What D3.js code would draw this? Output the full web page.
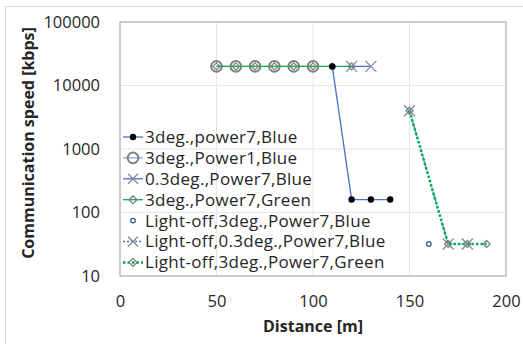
<!DOCTYPE html>
<html lang="en">
<head>
    <meta charset="UTF-8">
    <script src="https://d3js.org/d3.v7.min.js"></script>
    <style>
        body { margin: 0; background: white; }
        text { font-family: "Open Sans", "Noto Sans", sans-serif; fill: #262626; }
    </style>
</head>
<body>
    <svg id="chart" width="523" height="344"></svg>

    <script>
        // Data
        const xTicks = [0, 50, 100, 150, 200];
        const yTicks = [10, 100, 1000, 10000, 100000];

        const seriesNames = [
            "3deg.,power7,Blue",
            "3deg.,Power1,Blue",
            "0.3deg.,Power7,Blue",
            "3deg.,Power7,Green",
            "Light-off,3deg.,Power7,Blue",
            "Light-off,0.3deg.,Power7,Blue",
            "Light-off,3deg.,Power7,Green"
        ];

        const dist1 = [110, 120, 130, 140];
        const speed1 = [20000, 160, 160, 160];

        const dist2 = [50, 60, 70, 80, 90, 100];
        const speed2 = [20000, 20000, 20000, 20000, 20000, 20000];

        const dist3 = [120, 130];
        const speed3 = [20000, 20000];

        const dist4 = [50, 60, 70, 80, 90, 100, 110, 120];
        const speed4 = [20000, 20000, 20000, 20000, 20000, 20000, 20000, 20000];

        const dist5 = [160];
        const speed5 = [32];

        const dist6 = [150, 170, 180];
        const speed6 = [4000, 32, 32];

        const dist7 = [150, 170, 180, 190];
        const speed7 = [4000, 32, 32, 32];

        const svg = d3.select("#chart");
        const width = 523, height = 344;
        const margin = { top: 22, right: 17, bottom: 68, left: 120 };

        // outer chart frame
        svg.append("rect")
            .attr("x", 5.5).attr("y", 6.5)
            .attr("width", width - 5).attr("height", height - 5)
            .attr("fill", "white")
            .attr("stroke", "#d9d9d9");

        const x = d3.scaleLinear()
            .domain([0, 200])
            .range([margin.left, width - margin.right]);

        const y = d3.scaleLog()
            .domain([10, 100000])
            .range([height - margin.bottom, margin.top]);

        // gridlines
        svg.append("g")
            .selectAll("line")
            .data(xTicks)
            .enter().append("line")
            .attr("x1", d => x(d)).attr("x2", d => x(d))
            .attr("y1", margin.top).attr("y2", height - margin.bottom)
            .attr("stroke", "#e6e6e6");
        svg.append("g")
            .selectAll("line")
            .data(yTicks)
            .enter().append("line")
            .attr("x1", margin.left).attr("x2", width - margin.right)
            .attr("y1", d => y(d)).attr("y2", d => y(d))
            .attr("stroke", "#e6e6e6");

        // plot border
        svg.append("rect")
            .attr("x", margin.left).attr("y", margin.top)
            .attr("width", width - margin.left - margin.right)
            .attr("height", height - margin.top - margin.bottom)
            .attr("fill", "none")
            .attr("stroke", "#a6a6a6");

        // axes (labels only)
        const xAxis = svg.append("g")
            .attr("transform", `translate(0,${height - margin.bottom + 13})`)
            .call(d3.axisBottom(x).tickValues(xTicks).tickSize(0).tickFormat(d3.format("d")));
        xAxis.select(".domain").remove();
        xAxis.selectAll("text").style("font-size", "16.5px").attr("fill", "#262626").attr("dy", "0.9em");

        const yAxis = svg.append("g")
            .attr("transform", `translate(${margin.left - 17},0)`)
            .call(d3.axisLeft(y).tickValues(yTicks).tickSize(0).tickFormat(d3.format("d")));
        yAxis.select(".domain").remove();
        yAxis.selectAll("text").style("font-size", "16.5px").attr("fill", "#262626");

        // axis titles
        svg.append("text")
            .attr("x", x(100))
            .attr("y", 332)
            .attr("text-anchor", "middle")
            .style("font-size", "16px")
            .style("font-weight", "bold")
            .text("Distance [m]");

        svg.append("text")
            .attr("transform", `translate(34,${143}) rotate(-90)`)
            .attr("text-anchor", "middle")
            .style("font-size", "16px")
            .style("font-weight", "bold")
            .text("Communication speed [kbps]");

        // series styles (drawing order chosen so the black dots sit on top)
        const series = [
            { name: seriesNames[0], d: dist1, v: speed1, line: "#4472c4", width: 1.3, dash: null, marker: "dot", mColor: "#000" },
            { name: seriesNames[1], d: dist2, v: speed2, line: "#8faadc", width: 1.3, dash: null, marker: "circle", mColor: "#7f7f7f" },
            { name: seriesNames[2], d: dist3, v: speed3, line: "#4472c4", width: 1.3, dash: null, marker: "x", mColor: "#7f8ba3" },
            { name: seriesNames[3], d: dist4, v: speed4, line: "#00b050", width: 1.3, dash: null, marker: "diamond", mColor: "#7f7f7f" },
            { name: seriesNames[4], d: dist5, v: speed5, line: null, width: 0, dash: null, marker: "small", mColor: "#2f5597" },
            { name: seriesNames[5], d: dist6, v: speed6, line: "#4472c4", width: 1.3, dash: "2,2", marker: "x", mColor: "#7f8ba3" },
            { name: seriesNames[6], d: dist7, v: speed7, line: "#00b050", width: 2.5, dash: "2.5,2", marker: "diamond", mColor: "#7f7f7f" }
        ];

        function drawMarker(g, type, color, cx, cy, legendSize) {
            if (type === "dot") {
                g.append("circle").attr("cx", cx).attr("cy", cy).attr("r", 3.2)
                    .attr("fill", color);
            } else if (type === "circle") {
                g.append("circle").attr("cx", cx).attr("cy", cy).attr("r", 5.3)
                    .attr("fill", "none").attr("stroke", color).attr("stroke-width", 2);
            } else if (type === "small") {
                g.append("circle").attr("cx", cx).attr("cy", cy).attr("r", 2.3)
                    .attr("fill", "white").attr("stroke", color).attr("stroke-width", 1.2);
            } else if (type === "x") {
                const s = legendSize ? 5 : 5.5;
                g.append("path")
                    .attr("d", `M${cx - s},${cy - s}L${cx + s},${cy + s}M${cx - s},${cy + s}L${cx + s},${cy - s}`)
                    .attr("stroke", color).attr("stroke-width", 1.3).attr("fill", "none");
            } else if (type === "diamond") {
                const s = legendSize ? 4 : 3.5;
                g.append("path")
                    .attr("d", `M${cx},${cy - s}L${cx + s},${cy}L${cx},${cy + s}L${cx - s},${cy}Z`)
                    .attr("stroke", color).attr("stroke-width", 1.3).attr("fill", "none");
            }
        }

        const line = d3.line().x(p => x(p[0])).y(p => y(p[1]));
        const order = [1, 2, 3, 4, 5, 6, 0];

        order.forEach(k => {
            const s = series[k];
            const g = svg.append("g");
            const pts = s.d.map((dd, i) => [dd, s.v[i]]);
            if (s.line) {
                g.append("path")
                    .datum(pts)
                    .attr("d", line)
                    .attr("fill", "none")
                    .attr("stroke", s.line)
                    .attr("stroke-width", s.width)
                    .attr("stroke-dasharray", s.dash);
            }
            pts.forEach(p => drawMarker(g, s.marker, s.mColor, x(p[0]), y(p[1]), false));
        });

        // legend
        const legend = svg.append("g");
        series.forEach((s, i) => {
            const ly = 137 + i * 20.9;
            if (s.line) {
                legend.append("line")
                    .attr("x1", 123).attr("x2", 143)
                    .attr("y1", ly).attr("y2", ly)
                    .attr("stroke", s.line)
                    .attr("stroke-width", s.width)
                    .attr("stroke-dasharray", s.dash);
            }
            drawMarker(legend, s.marker, s.mColor, 133, ly, true);
            legend.append("text")
                .attr("x", 145)
                .attr("y", ly)
                .attr("dy", "0.35em")
                .style("font-size", "17px")
                .style("letter-spacing", "0.3px")
                .text(s.name);
        });
    </script>
</body>
</html>
